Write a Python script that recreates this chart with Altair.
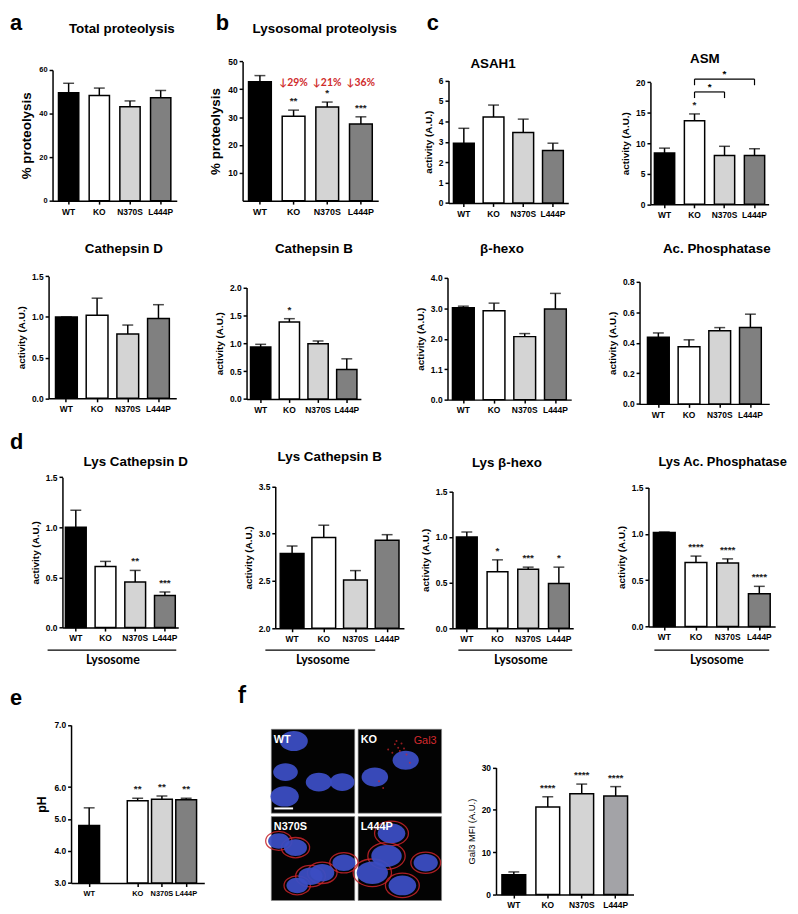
import altair as alt
import pandas as pd

W, H = 790, 906
FONT = "Liberation Sans"
CAL = "Lato"
RED = "#cf2a2a"


def P(v):
    return v - 8


GENO = ["WT", "KO", "N370S", "L444P"]
FILLS = ["#000000", "#ffffff", "#d4d4d4", "#808080"]
FILLS_LMP = ["#000000", "#ffffff", "#d4d4d4", "#a3a3a7"]

# ---------------- data ----------------
total_mean = [49.6, 48.3, 43.1, 47.3]
total_sem = [4.3, 3.4, 2.7, 3.3]

lyso_mean = [42.7, 30.3, 33.6, 27.5]
lyso_sem = [2.2, 2.2, 1.8, 2.6]
lyso_stars = ["", "**", "*", "***"]
lyso_drop = ["", "↓29%", "↓21%", "↓36%"]

asah1_mean = [2.93, 4.21, 3.46, 2.57]
asah1_sem = [0.73, 0.59, 0.65, 0.36]

asm_mean = [8.4, 13.7, 8.0, 8.0]
asm_sem = [0.8, 1.1, 1.5, 1.1]
asm_stars = ["", "*", "", ""]
bracket_from = ["KO", "KO"]
bracket_to = ["N370S", "L444P"]
bracket_y = [18.4, 20.5]
bracket_low = [17.4, 19.5]

cathd_mean = [1.0, 1.02, 0.79, 0.98]
cathd_sem = [0.0, 0.21, 0.11, 0.17]

cathb_mean = [0.93, 1.38, 0.99, 0.53]
cathb_sem = [0.05, 0.06, 0.05, 0.19]
cathb_stars = ["", "*", "", ""]

hexo_mean = [3.02, 2.92, 2.07, 2.98]
hexo_sem = [0.05, 0.25, 0.10, 0.51]

acp_mean = [0.437, 0.374, 0.48, 0.50]
acp_sem = [0.028, 0.046, 0.02, 0.088]

lcathd_mean = [1.0, 0.61, 0.454, 0.32]
lcathd_sem = [0.17, 0.05, 0.116, 0.035]
lcathd_stars = ["", "", "**", "***"]

lcathb_mean = [2.79, 2.96, 2.51, 2.93]
lcathb_sem = [0.08, 0.13, 0.10, 0.06]

lhexo_mean = [1.0, 0.62, 0.647, 0.49]
lhexo_sem = [0.055, 0.13, 0.023, 0.18]
lhexo_stars = ["", "*", "***", "*"]

lacp_mean = [1.013, 0.69, 0.686, 0.355]
lacp_sem = [0.007, 0.07, 0.044, 0.079]
lacp_stars = ["", "****", "****", "****"]

ph_mean = [4.8, 5.57, 5.62, 5.6]
ph_sem = [0.55, 0.08, 0.1, 0.05]
ph_stars = ["", "**", "**", "**"]

lmp_mean = [4.7, 20.7, 23.8, 23.3]
lmp_sem = [0.65, 2.4, 2.3, 2.2]
lmp_stars = ["", "****", "****", "****"]

# microscopy schematic (image-relative percent coordinates)
IMG_NAMES = ["WT", "KO", "N370S", "L444P"]
IMG_COL = [0, 1, 0, 1]
IMG_ROW = [0, 0, 1, 1]
nuc_img = [0, 0, 0, 0, 0, 1, 1, 2, 2, 2, 2, 2, 2, 3, 3, 3, 3, 3]
nuc_x = [27, 17, 57, 85, 16, 57, 20, 9, 29, 47, 61, 87, 31, 40, 34, 17, 53, 81]
nuc_y = [14, 51, 63, 63, 80, 37, 57, 29, 37, 71, 67, 55, 82, 20, 47, 67, 82, 55]
nuc_s = [800, 620, 700, 620, 820, 700, 720, 470, 540, 600, 600, 540, 470,
         780, 950, 1000, 780, 600]
gal_x = [44, 48, 52, 50, 55, 46, 58, 41, 25, 30, 62, 36]
gal_y = [18, 22, 17, 26, 23, 14, 30, 28, 62, 70, 40, 24]

layers = []


def panel(mean, sem, g, dom, ticks, ytitle, fills=FILLS, stars=None, fmt=".1f",
          label_expr=None, xdomain=None, ytitle_size=10, ytitle_weight="bold",
          xlab=8.5, ylab=8.5, cap=11, star_dy=-9, star_size=10, extra=None):
    ax, x0, w, s, yb, yt = g
    xdomain = xdomain or GENO
    n = len(xdomain)
    pi = 1 - w / s
    po = (x0 - ax) / s
    L = P(ax)
    R = L + s * (n - pi + 2 * po)
    df = pd.DataFrame({"geno": GENO, "mean": mean,
                       "top": [m + e for m, e in zip(mean, sem)],
                       "stars": stars if stars else [""] * 4})
    if extra:
        for k, v in extra.items():
            df[k] = v
    xs = alt.Scale(domain=xdomain, range=[L, R], paddingInner=pi, paddingOuter=po)
    ys = alt.Scale(domain=dom, range=[P(yb), P(yt)], nice=False, zero=False)
    yax = dict(orient="left", offset=-L, values=ticks, format=fmt, title=ytitle,
               titleFontSize=ytitle_size, titleFontWeight=ytitle_weight, labelFontSize=ylab)
    if label_expr:
        yax["labelExpr"] = label_expr
    base = alt.Chart(df)
    X = alt.X("geno:N", scale=xs,
              axis=alt.Axis(orient="bottom", offset=P(yb) - H, values=GENO, title=None,
                            labelAngle=0, bandPosition=0.5, labelFontSize=xlab,
                            labelPadding=3))
    bars = base.mark_bar(stroke="black", strokeWidth=1.5).encode(
        x=X, y=alt.Y("mean:Q", scale=ys, axis=alt.Axis(**yax)), y2=alt.datum(dom[0]),
        fill=alt.Fill("geno:N", scale=alt.Scale(domain=GENO, range=fills), legend=None))
    err = base.mark_rule(color="black", strokeWidth=1.5).encode(
        x="geno:N", y="mean:Q", y2="top:Q")
    caps = base.mark_tick(color="black", thickness=1.5, size=cap).encode(
        x="geno:N", y="top:Q")
    st = base.mark_text(dy=star_dy, fontSize=star_size, font=FONT, fontWeight="bold",
                        color="#222222").encode(x="geno:N", y="top:Q", text="stars:N")
    return [bars, err, caps, st], base


one = alt.Data(values=[{}])


def txt(s, x, y, size=13.5, weight="bold", color="black", font=FONT, align="center",
        baseline="middle"):
    return alt.Chart(one).mark_text(text=s, fontSize=size, fontWeight=weight, color=color,
                                    font=font, align=align, baseline=baseline).encode(
        x=alt.value(P(x)), y=alt.value(P(y)))


def hline(x1, x2, y, color="black", width=1.2):
    return alt.Chart(one).mark_rule(color=color, strokeWidth=width).encode(
        x=alt.value(P(x1)), x2=alt.value(P(x2)), y=alt.value(P(y)))


# ---- a: total proteolysis
l, b = panel(total_mean, total_sem, (53, 59, 20.5, 31, 198, 66), [0, 60], [0, 20, 40, 60],
             "% proteolysis", fmt="d", ytitle_size=13.5, ylab=7.5)
layers.append(alt.layer(*l))

# ---- b: lysosomal proteolysis
l, b = panel(lyso_mean, lyso_sem, (245, 251, 23, 34, 198, 57.3), [0, 50],
             [10, 20, 30, 40, 50], "% proteolysis", fmt="d", stars=lyso_stars,
             ytitle_size=13.5, xlab=9, extra={"drop": lyso_drop})
l.append(b.mark_text(color=RED, fontSize=10.5, font=CAL, fontWeight="bold").encode(
    x="geno:N", y=alt.value(P(79)), text="drop:N"))
layers.append(alt.layer(*l))

# ---- c: ASAH1
l, b = panel(asah1_mean, asah1_sem, (453, 458, 21, 30, 200.3, 76.7), [0, 6],
             [0, 1, 2, 3, 4, 5, 6], "activity (A.U.)", fmt="d")
layers.append(alt.layer(*l))

# ---- c: ASM
l, b = panel(asm_mean, asm_sem, (657, 661, 20.5, 30.3, 201.7, 78.3), [0, 20],
             [0, 5, 10, 15, 20], "activity (A.U.)", fmt="d", stars=asm_stars)
br = alt.Chart(pd.DataFrame({"from": bracket_from, "to": bracket_to,
                             "y": bracket_y, "low": bracket_low}))
l.append(br.mark_rule(color="black", strokeWidth=1.2).encode(
    x="from:N", x2="to:N", y="y:Q"))
l.append(br.mark_rule(color="black", strokeWidth=1.2).encode(
    x="from:N", y="y:Q", y2="low:Q"))
l.append(br.mark_rule(color="black", strokeWidth=1.2).encode(
    x="to:N", y="y:Q", y2="low:Q"))
l.append(alt.Chart(one).mark_text(text="*", dx=-15, dy=-5, fontSize=10, font=FONT,
                                  fontWeight="bold").encode(
    x=alt.datum("N370S"), y=alt.datum(bracket_y[0])))
l.append(alt.Chart(one).mark_text(text="*", dy=-5, fontSize=10, font=FONT,
                                  fontWeight="bold").encode(
    x=alt.datum("N370S"), y=alt.datum(bracket_y[1])))
layers.append(alt.layer(*l))

# ---- row 2
l, b = panel(cathd_mean, cathd_sem, (49, 56, 22, 31, 397.7, 274.3), [0, 1.5],
             [0, 0.5, 1.0, 1.5], "activity (A.U.)")
layers.append(alt.layer(*l))
l, b = panel(cathb_mean, cathb_sem, (249, 253, 20.5, 29, 398.3, 285.7), [0, 2],
             [0, 0.5, 1.0, 1.5, 2.0], "activity (A.U.)", stars=cathb_stars)
layers.append(alt.layer(*l))
l, b = panel(hexo_mean, hexo_sem, (452, 457, 22, 31, 399, 276), [0, 4],
             [0, 1, 2, 3, 4], "activity (A.U.)",
             label_expr="datum.value == 1 ? '1.1' : format(datum.value, '.1f')")
layers.append(alt.layer(*l))
l, b = panel(acp_mean, acp_sem, (646, 654, 22, 31, 403.3, 280), [0, 0.8],
             [0, 0.2, 0.4, 0.6, 0.8], "activity (A.U.)")
layers.append(alt.layer(*l))

# ---- d
l, b = panel(lcathd_mean, lcathd_sem, (63, 66, 21, 30, 629.3, 477.3), [0, 1.5],
             [0, 0.5, 1.0, 1.5], "activity (A.U.)", stars=lcathd_stars)
layers.append(alt.layer(*l))
l, b = panel(lcathb_mean, lcathb_sem, (278, 283, 24, 32, 630, 486.7), [2, 3.5],
             [2.0, 2.5, 3.0, 3.5], "activity (A.U.)")
layers.append(alt.layer(*l))
l, b = panel(lhexo_mean, lhexo_sem, (457, 461, 21, 31, 630, 491.7), [0, 1.5],
             [0, 0.5, 1.0, 1.5], "activity (A.U.)", stars=lhexo_stars)
layers.append(alt.layer(*l))
l, b = panel(lacp_mean, lacp_sem, (655, 660, 22, 32, 628.3, 487.7), [0, 1.5],
             [0, 0.5, 1.0, 1.5], "activity (A.U.)", stars=lacp_stars)
layers.append(alt.layer(*l))

# ---- e: pH
l, b = panel(ph_mean, ph_sem, (71.7, 79.5, 21, 24.5, 887.3, 727.7), [3, 7.94],
             [3, 4, 5, 6, 7.94], "pH", stars=ph_stars, ytitle_size=12.5, xlab=7.5,
             xdomain=["WT", " ", "KO", "N370S", "L444P"],
             label_expr="datum.value > 7.5 ? '7.0' : format(datum.value, '.1f')")
layers.append(alt.layer(*l))

# ---- f: LMP
l, b = panel(lmp_mean, lmp_sem, (501, 507, 24, 34.3, 899, 770.7), [0, 30],
             [0, 10, 20, 30], "Gal3 MFI (A.U.)", fmt="d", fills=FILLS_LMP,
             stars=lmp_stars, ytitle_weight="normal", ytitle_size=9.5)
layers.append(alt.layer(*l))

# ---- f: microscopy schematic
ix = alt.Scale(domain=[0, 200], range=[P(274), P(446)])
iy = alt.Scale(domain=[0, 200], range=[P(732), P(905)])
img_df = pd.DataFrame({"name": IMG_NAMES, "col": IMG_COL, "row": IMG_ROW})
nuc_df = pd.DataFrame({"nx": nuc_x, "ny": nuc_y, "ns": nuc_s,
                       "col": [IMG_COL[i] for i in nuc_img],
                       "row": [IMG_ROW[i] for i in nuc_img],
                       "name": [IMG_NAMES[i] for i in nuc_img]})
gal_df = pd.DataFrame({"nx": gal_x, "ny": gal_y, "col": 1, "row": 0})
ELL = "M -1 0 A 1 0.72 0 1 0 1 0 A 1 0.72 0 1 0 -1 0 Z"
rects = alt.Chart(img_df).transform_calculate(
    x0="datum.col*102", x1="datum.col*102+98", y0="datum.row*102", y1="datum.row*102+98"
).mark_rect(color="#030303", stroke="#8a8a8a", strokeWidth=0.6).encode(
    x=alt.X("x0:Q", scale=ix, axis=None), x2="x1:Q",
    y=alt.Y("y0:Q", scale=iy, axis=None), y2="y1:Q")
nucpos = dict(px="datum.col*102 + datum.nx*0.98", py="datum.row*102 + datum.ny*0.98")
rings = alt.Chart(nuc_df).transform_filter(
    "datum.name == 'N370S' || datum.name == 'L444P'"
).transform_calculate(**nucpos).transform_calculate(ring="datum.ns*1.5").mark_point(
    shape=ELL, filled=False, stroke="#c8242a", strokeWidth=1.3, opacity=0.85).encode(
    x=alt.X("px:Q", axis=None), y=alt.Y("py:Q", axis=None),
    size=alt.Size("ring:Q", scale=None, legend=None))
nuclei = alt.Chart(nuc_df).transform_calculate(**nucpos).mark_point(
    shape=ELL, filled=True, color="#3b4dc2", opacity=0.95).encode(
    x=alt.X("px:Q", axis=None), y=alt.Y("py:Q", axis=None),
    size=alt.Size("ns:Q", scale=None, legend=None))
dots = alt.Chart(gal_df).transform_calculate(**nucpos).mark_point(
    shape="circle", filled=True, color="#d4262c", size=4).encode(
    x=alt.X("px:Q", axis=None), y=alt.Y("py:Q", axis=None))
ilabels = alt.Chart(img_df).transform_calculate(
    tx="datum.col*102 + 3", ty="datum.row*102 + 12"
).mark_text(color="white", fontSize=11, font=FONT, fontWeight="bold", align="left",
            baseline="middle").encode(
    x=alt.X("tx:Q", axis=None), y=alt.Y("ty:Q", axis=None), text="name:N")
layers.append(alt.layer(rects, rings, nuclei, dots, ilabels))

# ---- titles, panel letters, annotations
for s_, x, y in [("Total proteolysis", 123, 25), ("Lysosomal proteolysis", 328, 25),
                 ("ASAH1", 498, 60), ("ASM", 712, 55),
                 ("Cathepsin D", 125, 247), ("Cathepsin B", 317, 247),
                 ("β-hexo", 507, 247), ("Ac. Phosphatase", 724, 247),
                 ("Lys Cathepsin D", 137, 462), ("Lys Cathepsin B", 333, 457),
                 ("Lys β-hexo", 512, 463)]:
    layers.append(txt(s_, x, y))
layers.append(txt("Lys Ac. Phosphatase", 730, 462, size=13))

for s_, x, y in [("a", 10, 26), ("b", 218, 26), ("c", 431, 26), ("d", 10, 449),
                 ("e", 10, 707)]:
    layers.append(txt(s_, x, y, size=22, align="left", baseline="alphabetic"))
layers.append(txt("f", 240, 705, size=24, font=CAL, align="left", baseline="alphabetic"))

for x1, x2, cx in [(48, 178, 114), (268, 379, 326), (463, 578, 526), (661, 777, 724)]:
    layers.append(hline(x1, x2, 652))
    layers.append(txt("Lysosome", cx, 662, size=12.5, font=CAL))

layers.append(txt("Gal3", 441, 744, size=11, weight="normal", color="#d22a2e", align="right"))
layers.append(hline(277, 296, 812, color="white", width=2))

chart = alt.layer(*layers).resolve_scale(
    x="independent", y="independent", fill="independent", size="independent"
).properties(
    width=W, height=H, padding=0, autosize=alt.AutoSizeParams(type="none")
).configure_view(stroke=None).configure_axis(
    domainColor="black", domainWidth=1.5, tickColor="black", tickWidth=1.5, tickSize=3.5,
    labelFont=FONT, labelFontWeight="bold", labelColor="black", labelFontSize=8,
    labelPadding=2, labelFlush=False, labelOverlap=False, labelBound=False,
    titleFont=FONT, titleColor="black", titleFontWeight="bold", titlePadding=5, grid=False
)

chart.save("out.html", embed_options={"renderer": "svg", "actions": False})
